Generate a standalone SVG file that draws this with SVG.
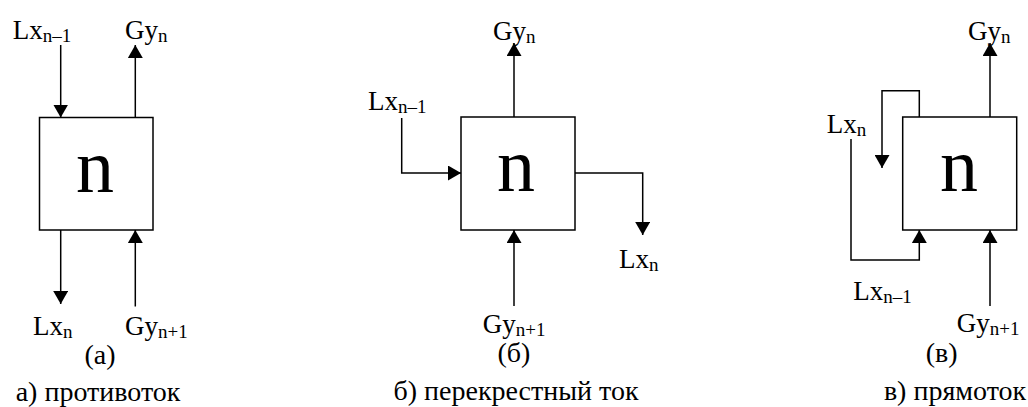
<svg xmlns="http://www.w3.org/2000/svg" width="1028" height="407" viewBox="0 0 1028 407">
  <defs>
    <marker id="ah" viewBox="0 0 13 15" refX="13" refY="7.5" markerWidth="13" markerHeight="15" markerUnits="userSpaceOnUse" orient="auto">
      <path d="M0,0 L13,7.5 L0,15 z" fill="#000"/>
    </marker>
    <style>
      .box { fill: #fff; stroke: #000; stroke-width: 1.5; }
      .arr { fill: none; stroke: #000; stroke-width: 1.5; marker-end: url(#ah); }
      .lbl { font-family: "Liberation Serif", "Times New Roman", serif; font-size: 27px; fill: #000; }
      .sub { font-size: 19px; }
      .big { font-family: "Liberation Serif", "Times New Roman", serif; font-size: 76px; fill: #000; text-anchor: middle; }
      .cap { font-family: "Liberation Serif", "Times New Roman", serif; font-size: 28px; fill: #000; text-anchor: middle; }
    </style>
  </defs>

  <g id="connectors">
    <!-- panel a -->
    <path class="arr" d="M60.7,45 V117.5"/>
    <path class="arr" d="M135.3,117.5 V45"/>
    <path class="arr" d="M60.7,230 V304"/>
    <path class="arr" d="M135.3,306.5 V230"/>
    <!-- panel b -->
    <path class="arr" d="M514,117 V43"/>
    <path class="arr" d="M401.7,118 V173 H461"/>
    <path class="arr" d="M575,173 H642.7 V235"/>
    <path class="arr" d="M514,306 V230"/>
    <!-- panel c -->
    <path class="arr" d="M990,117 V43"/>
    <path class="arr" d="M919.3,117 V90.7 H882 V168"/>
    <path class="arr" d="M851,139 V260 H919.3 V230"/>
    <path class="arr" d="M990,306 V230"/>
  </g>

  <g id="node-a">
    <rect class="box" x="39.5" y="117.5" width="113.5" height="112.5"/>
    <text class="big" x="95" y="192">n</text>
  </g>
  <g id="node-b">
    <rect class="box" x="461" y="117" width="114" height="113"/>
    <text class="big" x="516" y="191">n</text>
  </g>
  <g id="node-c">
    <rect class="box" x="902.7" y="117" width="114" height="113"/>
    <text class="big" x="959" y="191">n</text>
  </g>

  <g id="labels">
    <!-- panel a -->
    <text class="lbl" x="12.7" y="39">Lx<tspan class="sub" dy="3">n–1</tspan></text>
    <text class="lbl" x="125" y="39">Gy<tspan class="sub" dy="3">n</tspan></text>
    <text class="lbl" x="33" y="335">Lx<tspan class="sub" dy="3">n</tspan></text>
    <text class="lbl" x="125" y="335">Gy<tspan class="sub" dy="3">n+1</tspan></text>
    <text class="cap" x="100" y="364">(а)</text>
    <text class="cap" x="98" y="401">а) противоток</text>
    <!-- panel b -->
    <text class="lbl" x="493" y="40">Gy<tspan class="sub" dy="3">n</tspan></text>
    <text class="lbl" x="368" y="110">Lx<tspan class="sub" dy="3">n–1</tspan></text>
    <text class="lbl" x="619" y="268">Lx<tspan class="sub" dy="3">n</tspan></text>
    <text class="lbl" x="482.7" y="333">Gy<tspan class="sub" dy="3">n+1</tspan></text>
    <text class="cap" x="514" y="362">(б)</text>
    <text class="cap" x="516" y="400">б) перекрестный ток</text>
    <!-- panel c -->
    <text class="lbl" x="968" y="40">Gy<tspan class="sub" dy="3">n</tspan></text>
    <text class="lbl" x="826.7" y="133">Lx<tspan class="sub" dy="3">n</tspan></text>
    <text class="lbl" x="853.3" y="300">Lx<tspan class="sub" dy="3">n–1</tspan></text>
    <text class="lbl" x="956.7" y="332">Gy<tspan class="sub" dy="3">n+1</tspan></text>
    <text class="cap" x="941.7" y="362">(в)</text>
    <text class="cap" x="955" y="400">в) прямоток</text>
  </g>
</svg>
